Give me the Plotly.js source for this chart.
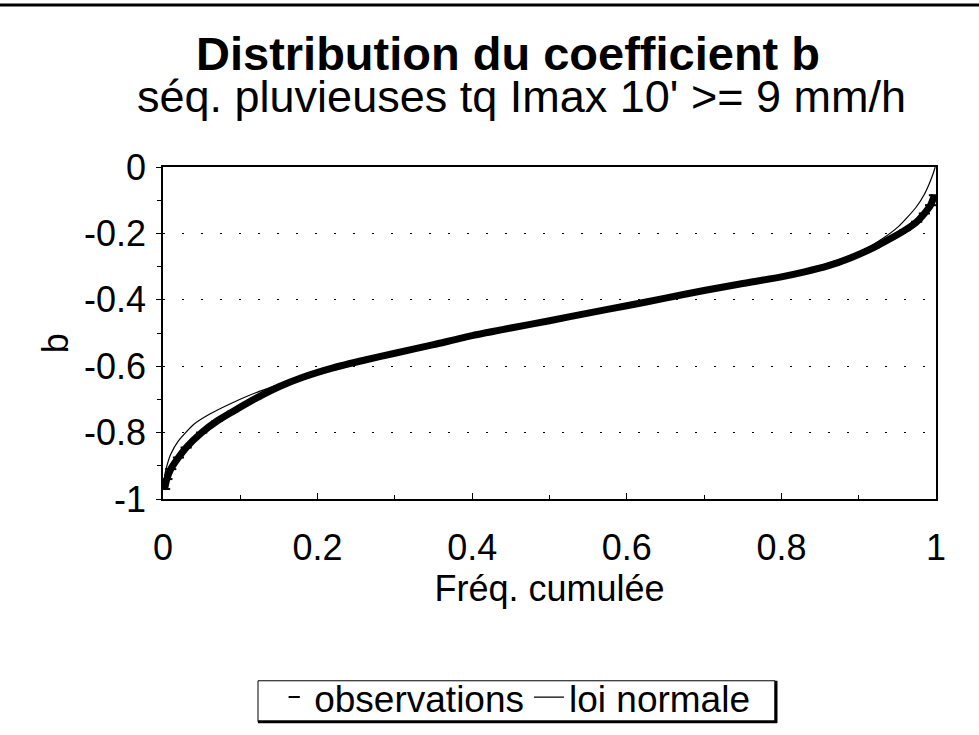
<!DOCTYPE html>
<html><head><meta charset="utf-8">
<script src="https://cdn.plot.ly/plotly-3.0.1.min.js"></script>
<style>html,body{margin:0;padding:0;background:#fff}#chart{width:979px;height:735px}</style>
</head><body><div id="chart"></div>
<script>
// Observations (cumulative frequency, coefficient b)
const obsFreq = [0.002,0.005,0.01,0.02,0.03,0.05,0.07,0.09,0.12,0.15,0.18,0.22,0.26,0.30,0.35,0.40,0.45,0.50,0.55,0.60,0.65,0.70,0.75,0.80,0.83,0.86,0.89,0.92,0.94,0.96,0.975,0.985,0.993,0.998];
const obsB    = [-0.97,-0.94,-0.91,-0.875,-0.845,-0.80,-0.765,-0.737,-0.697,-0.662,-0.634,-0.605,-0.582,-0.561,-0.535,-0.508,-0.485,-0.463,-0.44,-0.418,-0.395,-0.372,-0.351,-0.331,-0.316,-0.298,-0.273,-0.242,-0.217,-0.19,-0.165,-0.14,-0.115,-0.085];
// Normal law fit
const normFreq = [0.002,0.005,0.01,0.02,0.04,0.06,0.09,0.12,0.16,0.20,0.25,0.30,0.40,0.50,0.60,0.70,0.80,0.85,0.90,0.93,0.952,0.974,0.985,0.991,0.996,0.999];
const normB    = [-0.93,-0.9,-0.865,-0.825,-0.775,-0.745,-0.71,-0.68,-0.648,-0.618,-0.587,-0.558,-0.51,-0.465,-0.42,-0.373,-0.325,-0.297,-0.257,-0.217,-0.178,-0.122,-0.082,-0.052,-0.022,0.0];
// Tick labels
const yTickVals = [0, -0.2, -0.4, -0.6, -0.8, -1];
const yTickText = ['0', '-0.2', '-0.4', '-0.6', '-0.8', '-1'];
const xTickVals = [0, 0.2, 0.4, 0.6, 0.8, 1];
const xTickText = ['0', '0.2', '0.4', '0.6', '0.8', '1'];

const FONT = 'Liberation Sans, Arial, sans-serif';
const traces = [
  {x: obsFreq, y: obsB, mode: 'lines', line: {color: '#000', width: 7, shape: 'spline', smoothing: 0.6}, showlegend: false, hoverinfo: 'skip'},
  {x: obsFreq, y: obsB, mode: 'markers', name: 'observations',
   marker: {symbol: 'line-ew-open', size: 8, color: '#000', line: {color: '#000', width: 2}}},
  {x: normFreq, y: normB, mode: 'lines', name: 'loi normale', line: {color: '#000', width: 1.2, shape: 'spline', smoothing: 0.6}}
];
const layout = {
  width: 979, height: 735,
  margin: {l: 163, r: 43, t: 167, b: 236, autoexpand: false},
  paper_bgcolor: '#fff', plot_bgcolor: '#fff',
  font: {family: FONT, size: 36, color: '#000'},
  showlegend: true,
  legend: {orientation: 'h', x: 0.455, xanchor: 'center', y: -0.598, yanchor: 'middle',
    borderwidth: 0, bgcolor: 'rgba(0,0,0,0)', font: {size: 37, family: FONT},
    itemwidth: 30, tracegroupgap: 0},
  xaxis: {range: [0, 1], tickmode: 'array', tickvals: xTickVals, ticktext: xTickText,
    showgrid: false, zeroline: false,
    showline: true, linecolor: '#000', linewidth: 1.8, mirror: true,
    ticks: 'inside', ticklen: 6, tickcolor: '#000',
    minor: {dtick: 0.1, ticks: 'inside', ticklen: 4, tickcolor: '#000'},
    ticklabelstandoff: 16,
    title: {text: 'Fréq. cumulée', font: {size: 36}, standoff: 0}},
  yaxis: {range: [-1, 0], tickmode: 'array', tickvals: yTickVals, ticktext: yTickText, zeroline: false,
    showgrid: true, gridcolor: '#000', gridwidth: 1.3, griddash: '2px,17px',
    showline: true, linecolor: '#000', linewidth: 1.8, mirror: true,
    ticks: 'outside', ticklen: 5, tickcolor: '#000',
    minor: {dtick: 0.1, ticks: 'outside', ticklen: 4, tickcolor: '#000'},
    ticklabelstandoff: 3},
  annotations: [
    {text: '<b>Distribution du coefficient b</b>', xref: 'paper', yref: 'paper', x: 0.446, y: 1.342,
     xanchor: 'center', yanchor: 'middle', showarrow: false, font: {size: 47, family: FONT}},
    {text: "séq. pluvieuses tq Imax 10' >= 9 mm/h", xref: 'paper', yref: 'paper', x: 0.464, y: 1.213,
     xanchor: 'center', yanchor: 'middle', showarrow: false, font: {size: 45, family: FONT}},
    {text: 'b', xref: 'paper', yref: 'paper', x: -0.138, y: 0.47, textangle: -90,
     xanchor: 'center', yanchor: 'middle', showarrow: false, font: {size: 36, family: FONT}}
  ],
  shapes: [
    {type: 'line', xref: 'paper', yref: 'paper', x0: -0.22, x1: 1.06, y0: 1.488, y1: 1.488, line: {color: '#000', width: 3}},
    {type: 'rect', xref: 'paper', yref: 'paper', x0: (258-163)/773, x1: (775-163)/773, y0: (498.5-721)/331.5, y1: (498.5-680)/331.5,
     line: {color: '#000', width: 1}, fillcolor: 'rgba(0,0,0,0)'},
    {type: 'line', xref: 'paper', yref: 'paper', x0: (258-163)/773, x1: (777-163)/773, y0: (498.5-721)/331.5, y1: (498.5-721)/331.5,
     line: {color: '#000', width: 3}},
    {type: 'line', xref: 'paper', yref: 'paper', x0: (776-163)/773, x1: (776-163)/773, y0: (498.5-722)/331.5, y1: (498.5-680)/331.5,
     line: {color: '#000', width: 3}}
  ]
};
Plotly.newPlot('chart', traces, layout, {staticPlot: true});
</script></body></html>
